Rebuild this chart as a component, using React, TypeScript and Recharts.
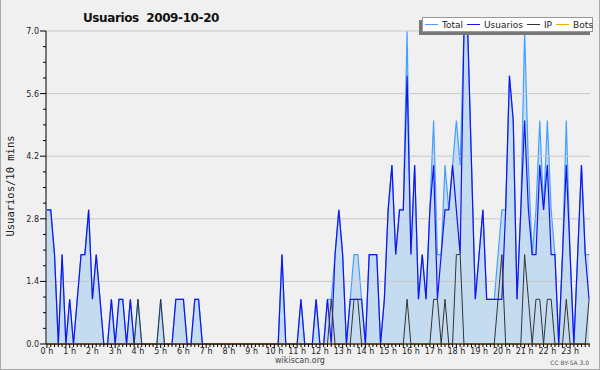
import React from 'react';
import { ComposedChart, Area, Line, XAxis, YAxis, ReferenceLine, Legend } from 'recharts';

// 10-minute slots, 6 per hour, 0 h .. 23 h 50
const USUARIOS = [
  3, 3, 2, 0, 2, 0,
  1, 0, 1, 2, 2, 3,
  1, 2, 1, 0, 0, 1,
  0, 1, 1, 0, 1, 0,
  0, 0, 0, 0, 0, 0,
  0, 0, 0, 0, 1, 1,
  1, 0, 0, 1, 1, 0,
  0, 0, 0, 0, 0, 0,
  0, 0, 0, 0, 0, 0,
  0, 0, 0, 0, 0, 0,
  0, 0, 2, 0, 0, 0,
  0, 1, 0, 0, 0, 1,
  0, 0, 1, 0, 2, 3,
  2, 0, 1, 1, 1, 1,
  0, 2, 2, 2, 0, 1,
  3, 4, 2, 3, 3, 6,
  2, 4, 1, 2, 1, 3,
  4, 1, 2, 3, 3, 4,
  3, 2, 7, 7, 4, 1,
  2, 3, 1, 1, 1, 1,
  1, 3, 6, 5, 1, 3,
  5, 3, 2, 2, 4, 3,
  4, 2, 2, 0, 2, 4,
  2, 0, 2, 4, 2, 1,
];

const IP = [
  0, 0, 0, 0, 0, 0,
  0, 0, 0, 0, 0, 0,
  0, 0, 0, 0, 0, 0,
  0, 0, 0, 0, 0, 0,
  1, 0, 0, 0, 0, 0,
  1, 0, 0, 0, 0, 0,
  0, 0, 0, 0, 0, 0,
  0, 0, 0, 0, 0, 0,
  0, 0, 0, 0, 0, 0,
  0, 0, 0, 0, 0, 0,
  0, 0, 0, 0, 0, 0,
  0, 0, 0, 0, 0, 0,
  0, 0, 0, 1, 0, 0,
  0, 0, 0, 1, 1, 0,
  0, 0, 0, 0, 0, 0,
  0, 0, 0, 0, 0, 1,
  0, 0, 0, 0, 0, 0,
  1, 1, 0, 1, 0, 0,
  2, 2, 0, 0, 0, 0,
  0, 0, 0, 0, 0, 1,
  2, 0, 0, 0, 0, 0,
  2, 1, 0, 1, 1, 0,
  1, 1, 0, 0, 0, 1,
  0, 0, 0, 0, 0, 1,
];

const TOTAL = [
  3, 3, 2, 0, 2, 0,
  1, 0, 1, 2, 2, 3,
  1, 2, 1, 0, 0, 1,
  0, 1, 1, 0, 1, 0,
  1, 0, 0, 0, 0, 0,
  1, 0, 0, 0, 1, 1,
  1, 0, 0, 1, 1, 0,
  0, 0, 0, 0, 0, 0,
  0, 0, 0, 0, 0, 0,
  0, 0, 0, 0, 0, 0,
  0, 0, 2, 0, 0, 0,
  0, 1, 0, 0, 0, 1,
  0, 0, 1, 1, 2, 3,
  2, 0, 1, 2, 2, 1,
  0, 2, 2, 2, 0, 1,
  3, 4, 2, 3, 3, 7,
  2, 4, 1, 2, 1, 3,
  5, 2, 2, 4, 3, 4,
  5, 4, 7, 7, 4, 1,
  2, 3, 1, 1, 1, 2,
  3, 3, 6, 5, 1, 3,
  7, 4, 2, 3, 5, 3,
  5, 3, 2, 0, 2, 5,
  2, 0, 2, 4, 2, 2,
];

const BOTS = [
  0, 0, 0, 0, 0, 0,  0, 0, 0, 0, 0, 0,  0, 0, 0, 0, 0, 0,  0, 0, 0, 0, 0, 0,
  0, 0, 0, 0, 0, 0,  0, 0, 0, 0, 0, 0,  0, 0, 0, 0, 0, 0,  0, 0, 0, 0, 0, 0,
  0, 0, 0, 0, 0, 0,  0, 0, 0, 0, 0, 0,  0, 0, 0, 0, 0, 0,  0, 0, 0, 0, 0, 0,
  0, 0, 0, 0, 0, 0,  0, 0, 0, 0, 0, 0,  0, 0, 0, 0, 0, 0,  0, 0, 0, 0, 0, 0,
  0, 0, 0, 0, 0, 0,  0, 0, 0, 0, 0, 0,  0, 0, 0, 0, 0, 0,  0, 0, 0, 0, 0, 0,
  0, 0, 0, 0, 0, 0,  0, 0, 0, 0, 0, 0,  0, 0, 0, 0, 0, 0,  0, 0, 0, 0, 0, 0,
];

const HOUR_LABELS = [
  '0 h', '1 h', '2 h', '3 h', '4 h', '5 h', '6 h', '7 h', '8 h', '9 h', '10 h', '11 h',
  '12 h', '13 h', '14 h', '15 h', '16 h', '17 h', '18 h', '19 h', '20 h', '21 h', '22 h', '23 h',
];

const Y_TICKS = [
  0, 0.35, 0.7, 1.05, 1.4, 1.75, 2.1, 2.45, 2.8, 3.15, 3.5,
  3.85, 4.2, 4.55, 4.9, 5.25, 5.6, 5.95, 6.3, 6.65, 7.0,
];
const Y_GRID = [1.4, 2.8, 4.2, 5.6, 7.0];

const SERIES = [
  { key: 'total', name: 'Total', color: '#44a0ff' },
  { key: 'usuarios', name: 'Usuarios', color: '#1414f0' },
  { key: 'ip', name: 'IP', color: '#333333' },
  { key: 'bots', name: 'Bots', color: '#ffa500' },
];

const TITLE = 'Usuarios  2009-10-20';
const Y_LABEL = 'Usuarios/10 mins';
const FOOTER = 'wikiscan.org';
const LICENSE = 'CC BY-SA 3.0';

const X_TICKS = USUARIOS.map((_, i) => i);
const data = USUARIOS.map((u, i) => ({
  slot: i,
  total: TOTAL[i],
  usuarios: u,
  ip: IP[i],
  bots: BOTS[i],
}));

const FONT = '"DejaVu Sans", Verdana, sans-serif';

const XTick = (props: any) => {
  const { x, y, payload } = props;
  const v = payload.value as number;
  const isHour = v % 6 === 0;
  return (
    <g>
      <line x1={x} x2={x} y1={y} y2={y + (isHour ? 4 : 3)} stroke="#000" strokeWidth={1} />
      {isHour && (
        <text x={x} y={y + 10} textAnchor="middle" fontSize={8} fill="#222" fontFamily={FONT}>
          {HOUR_LABELS[v / 6]}
        </text>
      )}
    </g>
  );
};

const YTick = (props: any) => {
  const { x, y, payload, index } = props;
  const major = index % 4 === 0;
  return (
    <g>
      <line x1={x - (major ? 6 : 3)} x2={x} y1={y} y2={y} stroke="#000" strokeWidth={1} />
      {major && (
        <text x={x - 7} y={y + 3} textAnchor="end" fontSize={8} fill="#222" fontFamily={FONT}>
          {(payload.value as number).toFixed(1)}
        </text>
      )}
    </g>
  );
};

const LegendBox = () => (
  <div
    style={{
      background: '#fff',
      border: '1px solid #999',
      boxShadow: '-3px 3px 0 #777',
      height: 15,
      display: 'flex',
      alignItems: 'center',
      fontFamily: FONT,
      fontSize: 9,
      color: '#222',
      paddingLeft: 2,
      boxSizing: 'border-box',
      whiteSpace: 'nowrap',
    }}
  >
    {SERIES.map((s) => (
      <span key={s.key} style={{ display: 'flex', alignItems: 'center', marginRight: 4 }}>
        <span style={{ display: 'inline-block', width: 13, height: 1, background: s.color, marginRight: 4 }} />
        <span>{s.name}</span>
      </span>
    ))}
  </div>
);

export default function App() {
  return (
    <div style={{ position: 'absolute', left: 0, top: 0, width: 600, height: 370, background: '#f0f0f0' }}>
      <ComposedChart
        width={600}
        height={370}
        data={data}
        margin={{ top: 31, right: 10, bottom: 0, left: 0 }}
        style={{ position: 'absolute', left: 0, top: 0 }}
      >
        <XAxis
          type="number"
          dataKey="slot"
          domain={[-0.25, 143.25]}
          ticks={X_TICKS}
          interval={0}
          height={26}
          tick={<XTick />}
          tickLine={false}
          tickSize={0}
          tickMargin={0}
          axisLine={{ stroke: '#000' }}
        />
        <YAxis
          type="number"
          domain={[0, 7]}
          ticks={Y_TICKS}
          interval={0}
          width={46}
          tick={<YTick />}
          tickLine={false}
          tickSize={0}
          tickMargin={0}
          axisLine={{ stroke: '#000' }}
        />
        {Y_GRID.map((g) => (
          <ReferenceLine key={g} y={g} stroke="#c9c9cc" strokeWidth={1} />
        ))}
        <Area
          type="linear"
          dataKey="total"
          name="Total"
          stroke={SERIES[0].color}
          strokeWidth={1.2}
          fill="#c5dcf0"
          fillOpacity={1}
          dot={false}
          activeDot={false}
          isAnimationActive={false}
        />
        <Line
          type="linear"
          dataKey="usuarios"
          name="Usuarios"
          stroke={SERIES[1].color}
          strokeWidth={1.2}
          dot={false}
          activeDot={false}
          isAnimationActive={false}
        />
        <Line
          type="linear"
          dataKey="ip"
          name="IP"
          stroke={SERIES[2].color}
          strokeWidth={1}
          dot={false}
          activeDot={false}
          isAnimationActive={false}
        />
        <Line
          type="linear"
          dataKey="bots"
          name="Bots"
          stroke={SERIES[3].color}
          strokeWidth={1}
          dot={false}
          activeDot={false}
          isAnimationActive={false}
        />
        <Legend
          layout="horizontal"
          verticalAlign="middle"
          align="center"
          wrapperStyle={{ position: 'absolute', top: 17, left: 422, width: 171, height: 15 }}
          content={() => <LegendBox />}
        />
      </ComposedChart>
      <svg
        width={600}
        height={370}
        style={{ position: 'absolute', left: 0, top: 0, pointerEvents: 'none' }}
      >
        <text x={151} y={21.5} textAnchor="middle" fontSize={12} fontWeight="bold" fill="#111" fontFamily={FONT} style={{ whiteSpace: 'pre' }} letterSpacing={-0.4}>
          {TITLE}
        </text>
        <text
          transform="translate(14,186) rotate(-90)"
          textAnchor="middle"
          fontSize={10.5}
          fill="#222"
          fontFamily='"DejaVu Sans Mono", monospace'
        >
          {Y_LABEL}
        </text>
        <text x={300} y={363} textAnchor="middle" fontSize={8} fill="#444" fontFamily={FONT}>
          {FOOTER}
        </text>
        <text x={589} y={365} textAnchor="end" fontSize={6} fill="#555" fontFamily={FONT}>
          {LICENSE}
        </text>
        <line x1={0.5} y1={0} x2={0.5} y2={370} stroke="#a8a8a8" />
        <line x1={599.5} y1={0} x2={599.5} y2={370} stroke="#a8a8a8" />
        <line x1={0} y1={369.5} x2={600} y2={369.5} stroke="#a8a8a8" />
      </svg>
    </div>
  );
}
